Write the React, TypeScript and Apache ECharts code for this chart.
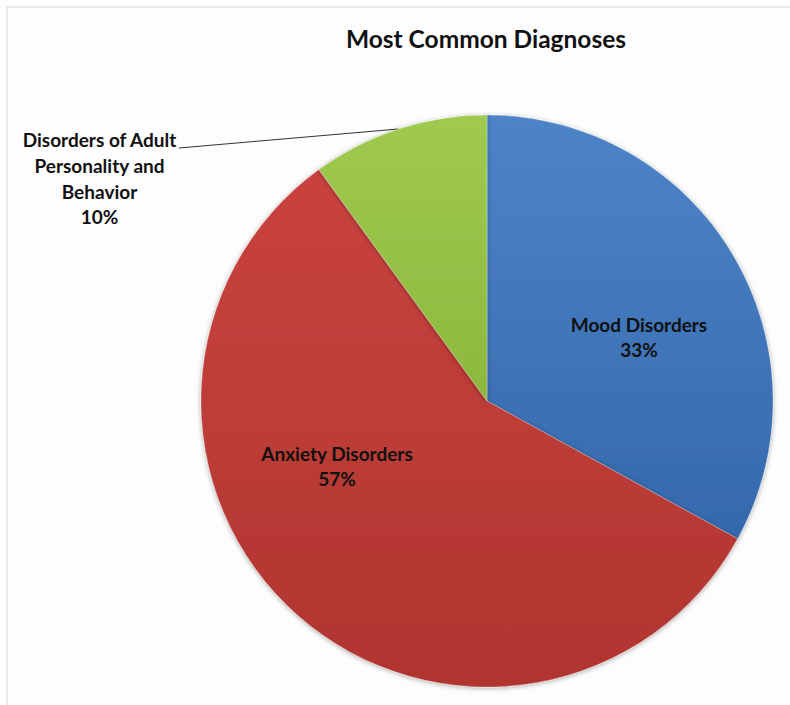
import React, { useEffect, useRef } from "react";
import * as echarts from "echarts";

const chartTitle = "Most Common Diagnoses";
const categories = [
  "Mood Disorders",
  "Anxiety Disorders",
  "Disorders of Adult\nPersonality and\nBehavior",
];
const values = [33, 57, 10];

const sliceTop = ["#4d84c7", "#c9433f", "#a0ca4f"];
const sliceBottom = ["#3568ad", "#b0352f", "#8cb83e"];

export default function App() {
  const ref = useRef<HTMLDivElement>(null);

  useEffect(() => {
    if (!ref.current) return;
    const chart = echarts.init(ref.current, null, { renderer: "svg" });

    const data = categories.map((name, i) => ({
      name,
      value: values[i],
      itemStyle: {
        color: new echarts.graphic.LinearGradient(0, 0, 0, 1, [
          { offset: 0, color: sliceTop[i] },
          { offset: 1, color: sliceBottom[i] },
        ]),
      },
      label: i < 2 ? { position: "inside" } : { position: "outside" },
      labelLine: i < 2 ? { show: false } : { show: true },
    }));

    const labelFont = {
      fontFamily: "Lato, 'Noto Sans', sans-serif",
      fontWeight: "bold" as const,
      fontSize: 19,
      lineHeight: 25.7,
      color: "#111",
    };

    chart.setOption({
      animation: false,
      backgroundColor: "#fdfdfd",
      title: {
        text: chartTitle,
        left: 481,
        top: 21,
        textAlign: "center",
        textStyle: {
          fontFamily: "Lato, 'Noto Sans', sans-serif",
          fontWeight: "bold",
          fontSize: 24.5,
          color: "#111",
        },
      },
      graphic: [
        {
          type: "rect",
          shape: { x: 7, y: 7, width: 800, height: 720 },
          style: { fill: "none", stroke: "#d6d6d6", lineWidth: 1 },
          silent: true,
        },
      ],
      series: [
        {
          type: "pie",
          center: [487, 401],
          radius: 286,
          startAngle: 90,
          clockwise: true,
          avoidLabelOverlap: false,
          data,
          itemStyle: {
            borderColor: "rgba(255,255,255,0.25)",
            borderWidth: 1,
            shadowBlur: 5,
            shadowOffsetY: 1,
            shadowColor: "rgba(0,0,0,0.35)",
          },
          label: {
            position: "outside",
            align: "center",
            formatter: (p: any) => `${p.name}\n${Math.round(p.percent)}%`,
            ...labelFont,
          },
          labelLine: {
            show: true,
            length: 5,
            length2: 5,
            lineStyle: { color: "#333", width: 1 },
          },
          labelLayout: (params: any) => {
            const i = params.dataIndex;
            if (i === 0) {
              return { x: 639, y: 337, align: "center", verticalAlign: "middle" };
            }
            if (i === 1) {
              return { x: 337, y: 466, align: "center", verticalAlign: "middle" };
            }
            const x = 99.5;
            const top = 127;
            const w = params.labelRect ? params.labelRect.width : 156;
            const pts = params.labelLinePoints;
            const start = pts && pts[0] ? pts[0] : [395, 128];
            return {
              x,
              y: top,
              align: "center",
              verticalAlign: "top",
              labelLinePoints: [start, [x + w / 2 + 2, top + 21]],
            };
          },
        },
      ],
    });

    return () => chart.dispose();
  }, []);

  return (
    <div
      ref={ref}
      style={{ position: "fixed", left: 0, top: 0, width: 790, height: 705 }}
    />
  );
}
